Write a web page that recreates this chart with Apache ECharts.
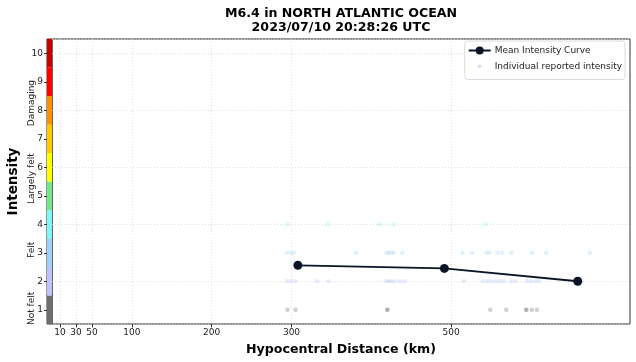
<!DOCTYPE html>
<html><head><meta charset="utf-8">
<script src="https://cdn.jsdelivr.net/npm/echarts@6/dist/echarts.min.js"></script>
<style>html,body{margin:0;padding:0;background:#fff}#c{width:636px;height:362px}</style>
</head><body><div id="c"></div>
<script>
const titleLines = ['M6.4 in NORTH ATLANTIC OCEAN', '2023/07/10 20:28:26 UTC'];
const xTicks = [10, 30, 50, 100, 200, 300, 500];
const yTicks = [1, 2, 3, 4, 5, 6, 7, 8, 9, 10];
const mmiLevels = [1, 2, 3, 4, 5, 6, 7, 8, 9, 10];
const mmiColors = ['#6e6e6e', '#bcc4f8', '#a2cff5', '#80f6f6', '#7ae68c', '#ffff00', '#ffc800', '#ff9100', '#ff0000', '#c80000'];
const feltNames = ['Not felt', 'Felt', 'Largely felt', 'Damaging'];
const feltPos = [1.05, 3.1, 5.6, 8.25];
const meanDist = [308, 491.5, 658.5];
const meanInt = [2.56, 2.45, 2.0];
const int4Dist = [295, 345, 410, 428, 543];
const int3Dist = [294, 299, 303, 381, 419, 422, 425, 428, 439, 514, 526, 544, 548, 558, 564, 575.5, 601, 619, 673.5];
const int2Dist = [294.5, 299.5, 305, 332, 346, 418.5, 422, 425, 429, 435.5, 441.5, 516, 539.5, 545, 550, 555.5, 561, 566, 575.5, 580.5, 595, 600, 605.5, 609.5];
const int1Dist = [295, 305, 420, 420, 549, 569, 594, 594, 601, 607.5];

const FONT = 'DejaVu Sans';
const points = [];
[[1, int1Dist], [2, int2Dist], [3, int3Dist], [4, int4Dist]].forEach(([lv, arr]) => arr.forEach(d => points.push([d, lv])));

const chart = echarts.init(document.getElementById('c'), null, {renderer: 'canvas'});
const gridLine = {show: true, lineStyle: {color: '#d6d6d6', width: 0.8, type: [1, 2]}};
chart.setOption({
  animation: false,
  backgroundColor: '#fff',
  textStyle: {fontFamily: FONT},
  title: {
    text: titleLines.join('\n'), left: 336, top: 2, textAlign: 'center',
    textStyle: {fontFamily: FONT, fontSize: 12.6, fontWeight: 'bold', color: '#000', lineHeight: 14}
  },
  legend: {
    right: 11, top: 41, orient: 'vertical', padding: [5, 3, 5, 3], itemGap: 3,
    itemWidth: 22, itemHeight: 10, borderColor: '#dcdcdc', borderWidth: 1, borderRadius: 3,
    backgroundColor: 'rgba(255,255,255,0.85)',
    textStyle: {fontFamily: FONT, fontSize: 9, color: '#222', padding: [0, 0, 0, -1]},
    data: [
      {name: 'Mean Intensity Curve'},
      {name: 'Individual reported intensity', icon: 'circle', itemStyle: {color: '#c9dcf4', borderColor: '#fff', borderWidth: 6.5, opacity: 1}}
    ]
  },
  grid: [
    {left: 52, right: 6, top: 39, bottom: 38, show: true, borderColor: '#333', borderWidth: 1, backgroundColor: 'transparent'},
    {left: 47, width: 5, top: 39, bottom: 38, show: true, borderColor: '#333', borderWidth: 1}
  ],
  xAxis: [
    {
      type: 'value', gridIndex: 0, min: 0, max: 724,
      name: 'Hypocentral Distance (km)', nameLocation: 'middle', nameGap: 19,
      nameTextStyle: {fontFamily: FONT, fontSize: 12.6, fontWeight: 'bold', color: '#000'},
      axisLine: {show: false},
      axisTick: {show: true, customValues: xTicks, length: 3.5, lineStyle: {color: '#333'}},
      axisLabel: {customValues: xTicks, fontFamily: FONT, fontSize: 9, color: '#222', margin: 4},
      splitLine: Object.assign({customValues: xTicks}, gridLine)
    },
    {type: 'value', gridIndex: 1, min: 0, max: 1, show: false}
  ],
  yAxis: [
    {
      type: 'value', gridIndex: 0, min: 0.5, max: 10.5,
      axisLine: {show: false}, axisTick: {show: false}, axisLabel: {show: false},
      splitLine: Object.assign({customValues: yTicks}, gridLine)
    },
    {
      type: 'value', gridIndex: 1, min: 0.5, max: 10.5,
      name: 'Intensity', nameLocation: 'middle', nameGap: 27, nameRotate: 90,
      nameTextStyle: {fontFamily: FONT, fontSize: 13.5, fontWeight: 'bold', color: '#000'},
      axisLine: {show: false},
      axisTick: {show: true, customValues: yTicks, length: 3, lineStyle: {color: '#333'}},
      axisLabel: {customValues: yTicks, fontFamily: FONT, fontSize: 9, color: '#222', margin: 4},
      splitLine: {show: false}
    }
  ],
  series: [
    {
      type: 'custom', xAxisIndex: 1, yAxisIndex: 1, silent: true,
      data: mmiLevels.map(v => [v]),
      encode: {y: 0},
      renderItem: function (params, api) {
        const lv = api.value(0);
        const p0 = api.coord([0, lv - 0.5]);
        const p1 = api.coord([1, lv + 0.5]);
        return {type: 'rect', shape: {x: p0[0], y: p1[1], width: p1[0] - p0[0], height: p0[1] - p1[1]},
          style: {fill: mmiColors[params.dataIndex]}};
      },
      z: 1
    },
    {
      name: 'Individual reported intensity', type: 'scatter', xAxisIndex: 0, yAxisIndex: 0,
      data: points, symbolSize: 4.5,
      itemStyle: {color: p => mmiColors[p.value[1] - 1], opacity: 0.32},
      z: 2
    },
    {
      name: 'Mean Intensity Curve', type: 'line', xAxisIndex: 0, yAxisIndex: 0,
      data: meanDist.map((d, i) => [d, meanInt[i]]),
      symbol: 'circle', symbolSize: 9, showSymbol: true,
      lineStyle: {color: '#0b1527', width: 1.8},
      itemStyle: {color: '#0b1527'},
      z: 5
    }
  ]
});

const graphics = feltNames.map((n, i) => {
  const p = chart.convertToPixel({gridIndex: 1}, [0, feltPos[i]]);
  return {type: 'text', x: 32, y: p[1], rotation: Math.PI / 2,
    style: {text: n, fontFamily: FONT, fontSize: 9, fill: '#222', align: 'center', verticalAlign: 'middle'}};
});
chart.setOption({graphic: graphics});
</script>
</body></html>
